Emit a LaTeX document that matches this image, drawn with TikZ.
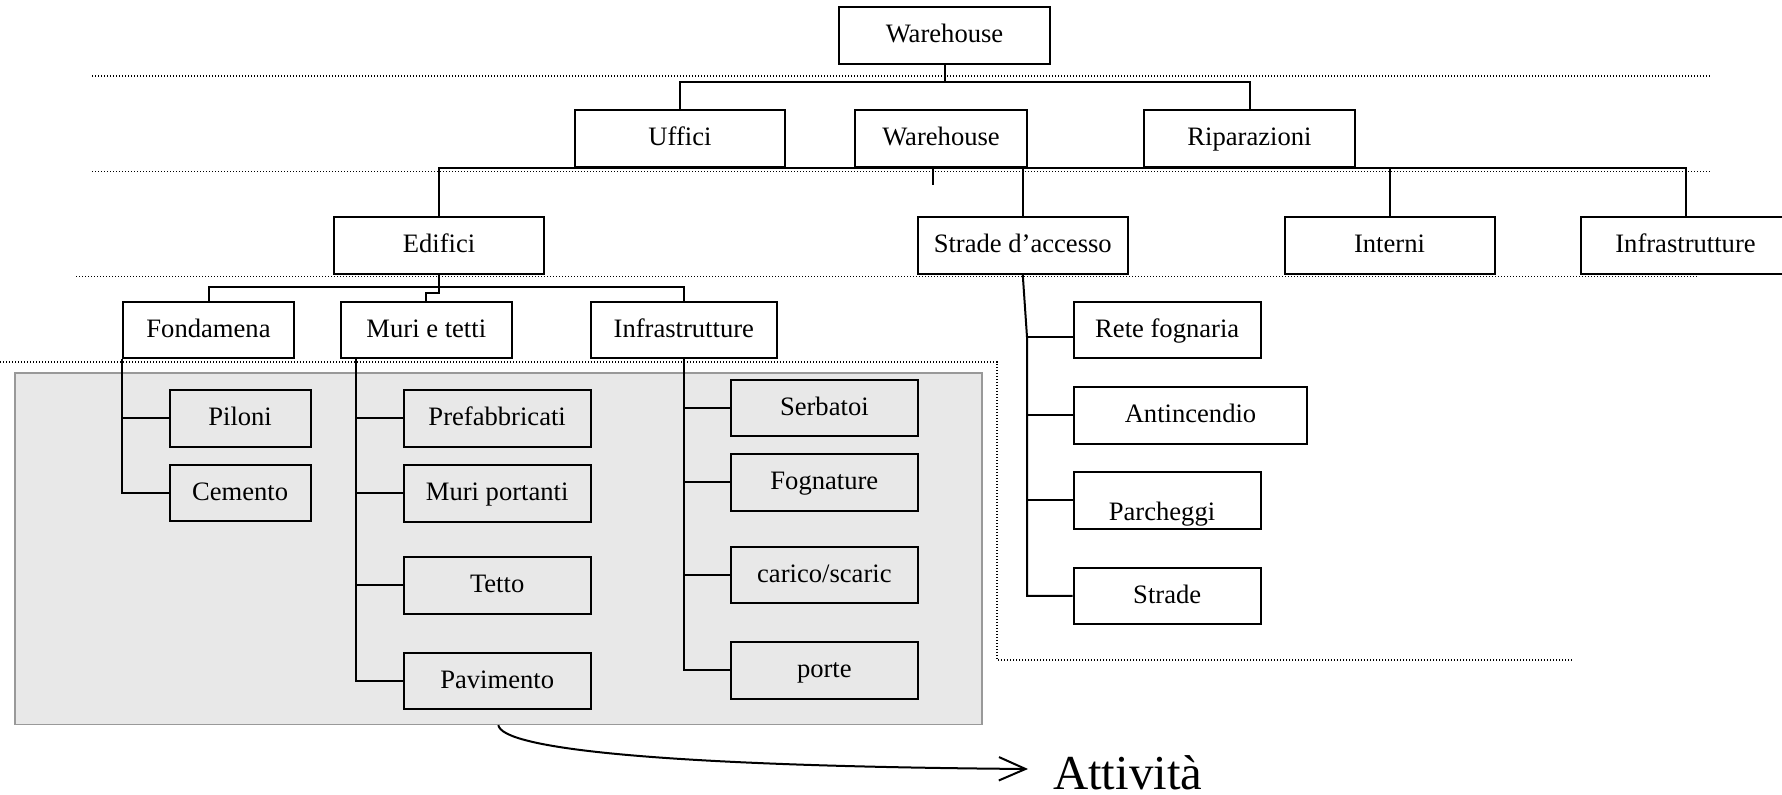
\documentclass[tikz,border=0pt]{standalone}
\usepackage{fontspec}
\setmainfont{Liberation Serif}
\usetikzlibrary{arrows.meta}
\begin{document}
\begin{tikzpicture}[x=0.5pt,y=-0.5pt,
  box/.style={draw, line width=1pt, inner sep=0pt, minimum height=28.4pt,
    font=\fontsize{13.3}{16}\selectfont, text height=10pt, text depth=2.7pt},
  lbl/.style={inner sep=0pt, font=\fontsize{13.3}{16}\selectfont},
  link/.style={line width=1pt},
  guide/.style={line width=0.7pt, dash pattern=on 0.6pt off 0.9pt},
  panel/.style={draw=black!40, fill=black!9, line width=0.8pt, inner sep=0pt},
  flow/.style={line width=1pt, -{Straight Barb[length=13.3pt,width=11.7pt]}}]
\useasboundingbox (0,0) rectangle (1782,795);
\clip (0,0) rectangle (1782,795);
\fill[white] (0,0) rectangle (1782,795);

% shaded panel of work packages
\node[panel, minimum width=483.6pt, minimum height=175.5pt] (act) at (498.35,548.8) {};

% level separators
\draw[guide] (92,76) -- (1711,76);
\draw[guide] (92,171.7) -- (1711,171.7);
\draw[guide] (76,276.7) -- (1696.7,276.7);
\draw[guide] (0,362) -- (997,362) -- (997,660) -- (1572,660);

% level 0
\node[box, minimum width=105.5pt] (top) at (944.5,35.5) {Warehouse};

% level 1
\node[box, minimum width=105pt] (uff) at (680,138.5) {Uffici};
\node[box, minimum width=86pt] (wh) at (941,138.5) {Warehouse};
\node[box, minimum width=105.5pt] (rip) at (1249.5,138.5) {Riparazioni};

% level 2
\node[box, minimum width=105pt] (edi) at (439,245.2) {Edifici};
\node[box, minimum width=105.2pt] (str) at (1022.75,245.2) {Strade d’accesso};
\node[box, minimum width=105pt] (int) at (1389.5,245.2) {Interni};
\node[box, minimum width=104.5pt] (inf) at (1685.5,245.2) {Infrastrutture};

% level 3
\node[box, minimum width=85.5pt] (fon) at (208.5,330.1) {Fondamena};
\node[box, minimum width=85.7pt] (mur) at (426.3,330.1) {Muri e tetti};
\node[box, minimum width=93.2pt] (inf2) at (683.8,330.1) {Infrastrutture};

% level 4: foundations
\node[box, minimum width=70.5pt] (pil) at (240.1,418.35) {Piloni};
\node[box, minimum width=70.5pt] (cem) at (240.1,493) {Cemento};

% level 4: walls and roofs
\node[box, minimum width=93.45pt] (pre) at (497.15,418.35) {Prefabbricati};
\node[box, minimum width=93.45pt] (mpo) at (497.15,493.15) {Muri portanti};
\node[box, minimum width=93.45pt] (tet) at (497.15,585.2) {Tetto};
\node[box, minimum width=93.45pt] (pav) at (497.15,681) {Pavimento};

% level 4: building services
\node[box, minimum width=93.35pt] (ser) at (824.35,408) {Serbatoi};
\node[box, minimum width=93.35pt] (fog) at (824.35,482.5) {Fognature};
\node[box, minimum width=93.35pt] (car) at (824.35,575) {carico/scaric};
\node[box, minimum width=93.35pt] (por) at (824.35,670.35) {porte};

% level 3: access roads
\node[box, minimum width=93.6pt] (ret) at (1167.2,330) {Rete fognaria};
\node[box, minimum width=116.9pt] (ant) at (1190.5,415.5) {Antincendio};
\node[box, minimum width=93.6pt] (par) at (1167.2,500.5) {};
\node[lbl, anchor=base] (parl) at (1162,521) {Parcheggi};
\node[box, minimum width=93.6pt] (strd) at (1167.2,596) {Strade};

% connectors level 0 -> 1
\coordinate (j0) at (944.5,82);
\draw[link] (top.south) -- (j0);
\draw[link] (uff.north) |- (j0) -| (rip.north);

% connectors level 1 -> 2
\coordinate (j1) at (933,168);
\draw[link] (edi.north) |- (j1) -| (inf.north);
\draw[link] (str.north) -- (str.north |- j1);
\draw[link] (int.north) -- (int.north |- j1);
\draw[link] (j1) -- ++(0,17);

% connectors Edifici -> level 3
\coordinate (j2) at (439,287.3);
\coordinate (j3) at (439,293);
\draw[link] (edi.south) -- (j2);
\draw[link] (fon.north) |- (j2) -| (inf2.north);
\draw[link] (j2) -- (j3) -| (mur.north);

% Fondamena branch
\draw[link] (fon.south west) |- (cem.west);
\draw[link] (pil.west) -- (pil.west -| fon.south west);

% Muri e tetti branch
\coordinate (mtop) at (356,358.3);
\draw[link] (mtop) |- (pav.west);
\foreach \n in {pre,mpo,tet} \draw[link] (\n.west) -- (\n.west -| mtop);

% Infrastrutture branch
\draw[link] (inf2.south) |- (por.west);
\foreach \n in {ser,fog,car} \draw[link] (\n.west) -- (\n.west -| inf2.south);

% Strade d'accesso branch
\coordinate (sk) at (1027,337);
\draw[link] (str.south) -- (sk) |- (strd.west);
\draw[link] (sk) -- (sk -| ret.west);
\foreach \n in {ant,par} \draw[link] (\n.west) -- (\n.west -| sk);

% activities arrow
\node[font=\fontsize{24.4}{28}\selectfont, anchor=base west, inner xsep=12.35pt,
  inner ysep=0pt, text height=20pt, text depth=0pt] (att) at (1028,789) {Attività};
\draw[flow] (act.south) .. controls (502,748) and (650,766) .. (att.west);
\end{tikzpicture}
\end{document}
